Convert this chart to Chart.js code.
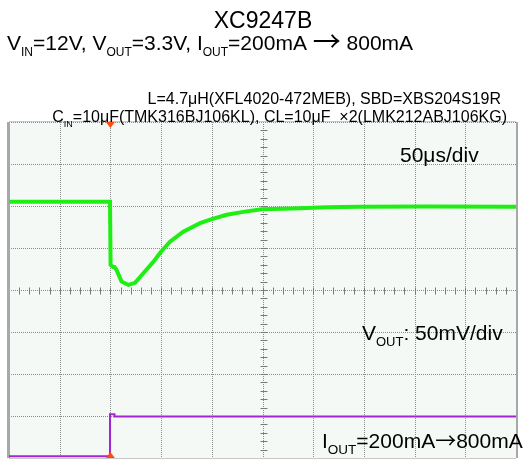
<!DOCTYPE html>
<html>
<head>
<meta charset="utf-8">
<script src="https://cdn.jsdelivr.net/npm/chart.js@4.4.0/dist/chart.umd.min.js"></script>
<style>
  html, body { margin: 0; padding: 0; background: #fff; }
  canvas { display: block; }
</style>
</head>
<body>
<canvas id="scope" width="526" height="459"></canvas>
<script>
// x in µs (50µs/div, 10 div), y in screen divisions (8 div)
let voutTime = [0, 40, 80, 99.6, 100.2, 102.5, 104, 106, 111, 117.7, 124.3, 132.5, 142.3, 149.9, 158.8, 171.9, 188.4, 199.2, 214.7, 231.1, 249.2, 280, 313, 346, 412, 500];
let voutDiv  = [6.10, 6.10, 6.10, 6.10, 4.60, 4.55, 4.55, 4.48, 4.20, 4.12, 4.17, 4.40, 4.67, 4.91, 5.15, 5.39, 5.59, 5.68, 5.79, 5.86, 5.92, 5.94, 5.97, 5.98, 5.99, 5.98];
let ioutTime = [0, 99.6, 99.6, 104, 104, 500];
let ioutDiv  = [0.04, 0.04, 1.04, 1.04, 0.99, 0.99];
let xTicks = [0, 50, 100, 150, 200, 250, 300, 350, 400, 450, 500];
let yTicks = [0, 1, 2, 3, 4, 5, 6, 7, 8];
let triggerTime = 100;

let FONT = '"Liberation Sans", Arial, sans-serif';
let ARROW = '"Noto Sans CJK JP", "DejaVu Sans", sans-serif';

function toPoints(xs, ys) {
  return xs.map((x, i) => ({ x: x, y: ys[i] }));
}

// text with subscripts: parts = [[text, isSub, font?, size?, dy?], ...]
function richText(ctx, parts, x, y, size, align, subSize) {
  subSize = subSize || Math.round(size * 0.58);
  let setFont = p => { ctx.font = (p[3] || (p[1] ? subSize : size)) + 'px ' + (p[2] || FONT); };
  let w = 0;
  parts.forEach(p => { setFont(p); w += ctx.measureText(p[0]).width; });
  let cx = align === 'right' ? x - w : (align === 'center' ? x - w / 2 : x);
  parts.forEach(p => {
    setFont(p);
    ctx.fillText(p[0], cx, (p[1] ? y + size * 0.3 : y) + (p[4] || 0));
    cx += ctx.measureText(p[0]).width;
  });
}

let scopePlugin = {
  id: 'scope',
  beforeDatasetsDraw(chart) {
    let ctx = chart.ctx;
    let a = chart.chartArea;
    let xs = chart.scales.x, ys = chart.scales.y;
    ctx.save();
    ctx.fillStyle = '#f4f9f5';
    ctx.fillRect(a.left, a.top, a.right - a.left, a.bottom - a.top);

    ctx.strokeStyle = '#8c8c8c';
    ctx.lineWidth = 1;
    ctx.setLineDash([1, 1]);
    xTicks.forEach(t => {
      let px = Math.round(xs.getPixelForValue(t)) + 0.5;
      ctx.beginPath(); ctx.moveTo(px, a.top); ctx.lineTo(px, a.bottom); ctx.stroke();
    });
    yTicks.forEach(t => {
      let py = Math.round(ys.getPixelForValue(t)) + 0.5;
      ctx.beginPath(); ctx.moveTo(a.left, py); ctx.lineTo(a.right, py); ctx.stroke();
    });
    ctx.setLineDash([]);

    // small ticks on the centre lines
    let cxp = Math.round(xs.getPixelForValue(250)) + 0.5;
    let cyp = Math.round(ys.getPixelForValue(4)) + 0.5;
    ctx.strokeStyle = '#7a7a7a';
    for (let t = 0; t <= 500; t += 10) {
      let px = Math.round(xs.getPixelForValue(t)) + 0.5;
      ctx.beginPath(); ctx.moveTo(px, cyp - 3); ctx.lineTo(px, cyp + 4); ctx.stroke();
    }
    for (let t = 0; t <= 8; t += 0.2) {
      let py = Math.round(ys.getPixelForValue(t)) + 0.5;
      ctx.beginPath(); ctx.moveTo(cxp - 3, py); ctx.lineTo(cxp + 4, py); ctx.stroke();
    }

    // frame
    ctx.strokeStyle = '#a8a8a8';
    ctx.lineWidth = 3;
    ctx.beginPath(); ctx.moveTo(a.left - 0.5, a.top); ctx.lineTo(a.left - 0.5, a.bottom); ctx.stroke();
    ctx.lineWidth = 2;
    ctx.beginPath(); ctx.moveTo(a.right + 1, a.top); ctx.lineTo(a.right + 1, a.bottom); ctx.stroke();
    ctx.strokeStyle = '#c8c8c8';
    ctx.lineWidth = 1;
    ctx.beginPath(); ctx.moveTo(a.left, a.top - 0.5); ctx.lineTo(a.right, a.top - 0.5); ctx.stroke();
    ctx.beginPath(); ctx.moveTo(a.left, a.bottom + 0.5); ctx.lineTo(a.right, a.bottom + 0.5); ctx.stroke();
    ctx.restore();
  },
  afterDraw(chart) {
    let ctx = chart.ctx;
    let a = chart.chartArea;
    let tx = chart.scales.x.getPixelForValue(triggerTime);
    ctx.save();
    // trigger markers
    ctx.fillStyle = '#ff4a10';
    ctx.beginPath(); ctx.moveTo(tx - 4.5, a.top); ctx.lineTo(tx + 4.5, a.top); ctx.lineTo(tx, a.top + 6); ctx.closePath(); ctx.fill();
    ctx.beginPath(); ctx.moveTo(tx - 4.5, a.bottom); ctx.lineTo(tx + 4.5, a.bottom); ctx.lineTo(tx, a.bottom - 6); ctx.closePath(); ctx.fill();

    ctx.fillStyle = '#000';
    ctx.textBaseline = 'alphabetic';
    richText(ctx, [['XC9247B', false]], 263, 28, 23, 'center');
    richText(ctx, [['V', false], ['IN', true], ['=12V, V', false], ['OUT', true], ['=3.3V, I', false], ['OUT', true], ['=200mA ', false], ['\u2192', false, ARROW, 28, 2], [' 800mA', false]], 7, 50, 21, 'left', 12);
    richText(ctx, [['L=4.7\u03bcH(XFL4020-472MEB), SBD=XBS204S19R', false]], 501, 104, 16, 'right');
    richText(ctx, [['C', false], ['IN', true], ['=10\u03bcF(TMK316BJ106KL), CL=10\u03bcF \u00a0\u00d72(LMK212ABJ106KG)', false]], 507, 122, 16, 'right');
    richText(ctx, [['50\u03bcs/div', false]], 400, 162, 21, 'left');
    richText(ctx, [['V', false], ['OUT', true], [': 50mV/div', false]], 362, 340, 21, 'left', 13);
    richText(ctx, [['I', false], ['OUT', true], ['=200mA', false], ['\u2192', false, ARROW], ['800mA', false]], 322, 448, 21, 'left', 13.5);
    ctx.restore();
  }
};

new Chart("scope", {
  type: "line",
  data: {
    datasets: [{
      label: "VOUT",
      data: toPoints(voutTime, voutDiv),
      borderColor: "#1eee14",
      borderWidth: 4,
      pointRadius: 0,
      tension: 0
    }, {
      label: "IOUT",
      data: toPoints(ioutTime, ioutDiv),
      borderColor: "#a524d8",
      borderWidth: 2,
      pointRadius: 0,
      tension: 0
    }]
  },
  options: {
    responsive: false,
    animation: false,
    layout: {
      padding: { left: 9, right: 10, top: 122, bottom: 1 }
    },
    plugins: {
      legend: { display: false },
      tooltip: { enabled: false },
      title: { display: false }
    },
    scales: {
      x: { type: "linear", min: 0, max: 500, display: false },
      y: { type: "linear", min: 0, max: 8, display: false }
    }
  },
  plugins: [scopePlugin]
});
</script>
</body>
</html>
